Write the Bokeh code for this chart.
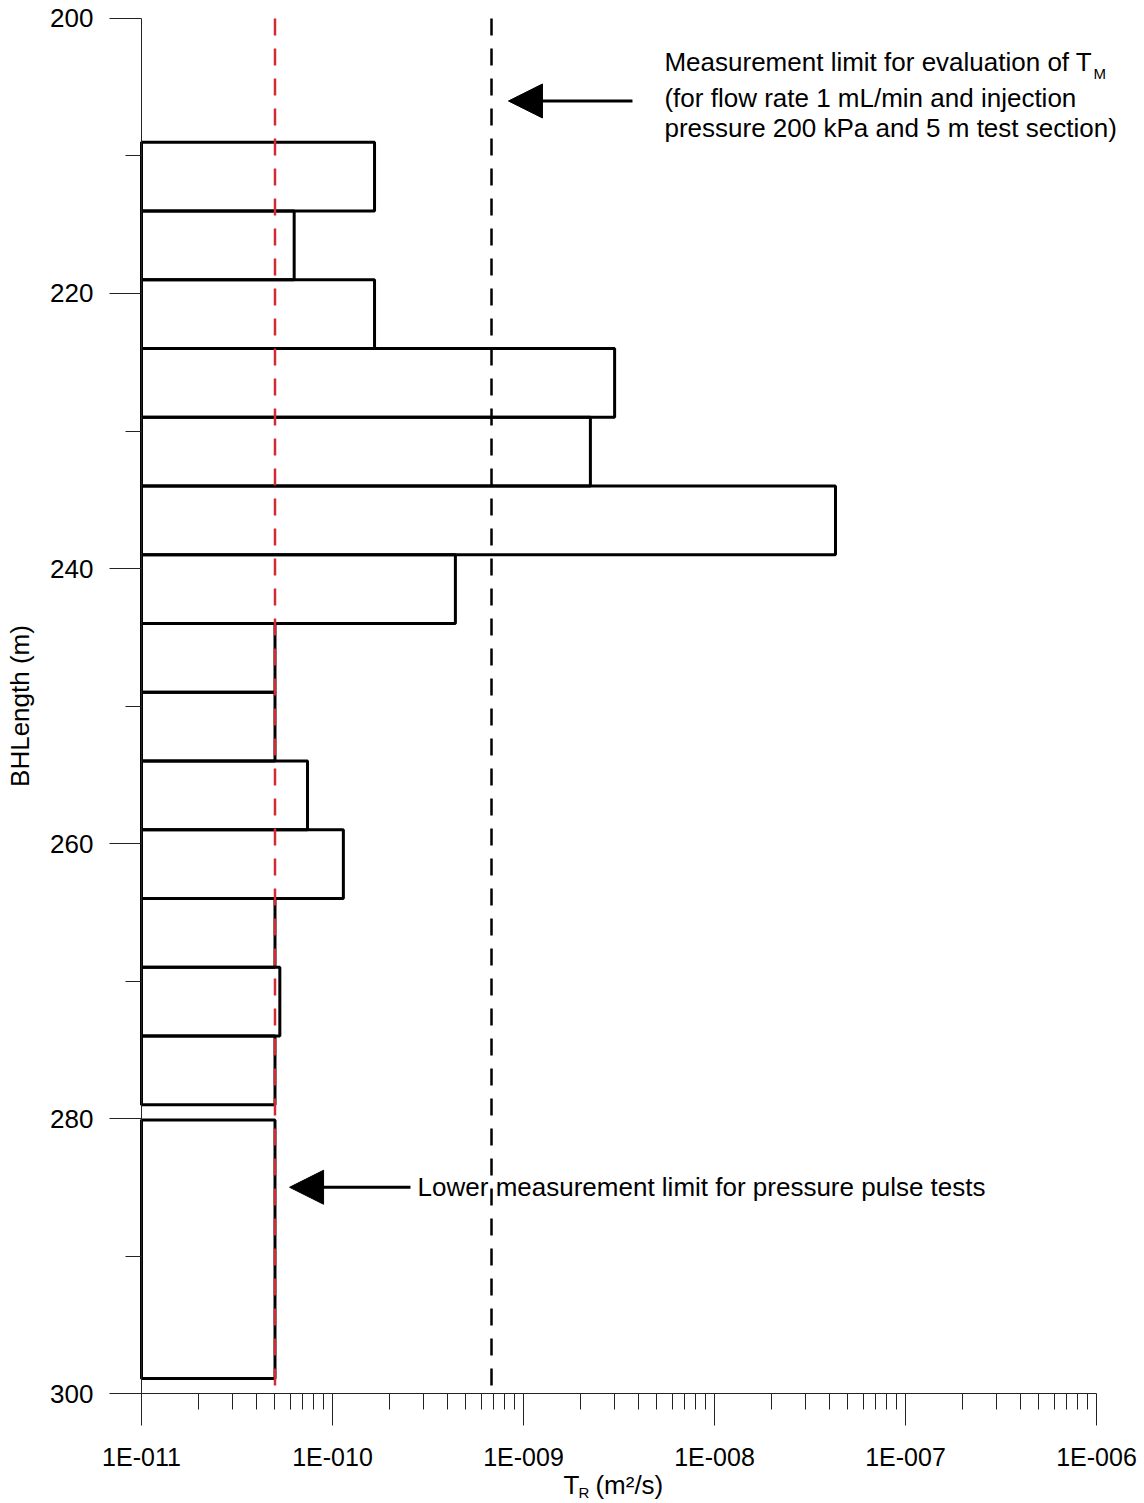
import math
from bokeh.plotting import figure
from bokeh.models import Range1d, FixedTicker, Label, Arrow, NormalHead, ColumnDataSource
from bokeh.embed import file_html
from bokeh.resources import INLINE

# ---- data ----
sec_up = [209, 214, 219, 224, 229, 234, 239, 244, 249, 254, 259, 264, 269, 274, 280.1]
sec_low = [214, 219, 224, 229, 234, 239, 244, 249, 254, 259, 264, 269, 274, 279, 298.9]
t_r = [1.66e-10, 6.3e-11, 1.66e-10, 3.0e-9, 2.24e-9, 4.3e-8, 4.4e-10,
       5.0e-11, 5.0e-11, 7.4e-11, 1.14e-10, 5.0e-11, 5.3e-11, 5.0e-11, 5.0e-11]
x_min = 1e-11
x_ticks = [1e-11, 1e-10, 1e-9, 1e-8, 1e-7, 1e-6]
x_tick_labels = ["1E-011", "1E-010", "1E-009", "1E-008", "1E-007", "1E-006"]
y_ticks = [200, 220, 240, 260, 280, 300]
y_minor = [210, 230, 250, 270, 290]
pulse_limit = 5.0e-11     # lower measurement limit for pressure pulse tests
tm_limit = 6.8e-10        # measurement limit for evaluation of T_M

FONT = "Liberation Sans"

# the frame covers the whole canvas; axes are pinned with fixed_location/bounds
p = figure(width=1140, height=1502, x_axis_type="log",
           x_range=Range1d(10 ** -11.7382, 10 ** -5.7696), y_range=Range1d(307.927, 198.691),
           output_backend="svg", toolbar_location=None,
           min_border_left=0, min_border_right=0, min_border_top=0, min_border_bottom=0)
p.outline_line_color = None
p.xgrid.visible = False
p.ygrid.visible = False
p.background_fill_color = "white"
p.border_fill_color = "white"

src = ColumnDataSource(dict(left=[x_min] * len(t_r), right=t_r, top=sec_up, bottom=sec_low))
p.quad(left="left", right="right", top="top", bottom="bottom", source=src,
       fill_alpha=0, line_color="black", line_width=3)

# limit lines (drawn over the bars)
p.segment(x0=[pulse_limit], y0=[y_ticks[0]], x1=[pulse_limit], y1=[y_ticks[-1]],
          line_color="#d22b36", line_width=2.5, line_dash="17 13")
p.segment(x0=[tm_limit], y0=[y_ticks[0]], x1=[tm_limit], y1=[y_ticks[-1]],
          line_color="black", line_width=2.5, line_dash="17 13")

# axes
minor_x = [m * d for d in x_ticks[:-1] for m in range(2, 10)]
xa = p.xaxis[0]
xa.ticker = FixedTicker(ticks=x_ticks, minor_ticks=minor_x)
xa.major_label_overrides = {t: l for t, l in zip(x_ticks, x_tick_labels)}
xa.bounds = (x_ticks[0], x_ticks[-1])
xa.fixed_location = y_ticks[-1]
ya = p.yaxis[0]
ya.ticker = FixedTicker(ticks=y_ticks, minor_ticks=y_minor)
ya.bounds = (y_ticks[0], y_ticks[-1])
ya.fixed_location = x_ticks[0]
for ax in (xa, ya):
    ax.major_tick_out = 32
    ax.major_tick_in = 0
    ax.minor_tick_out = 16
    ax.minor_tick_in = 0
    ax.axis_line_color = "#222222"
    ax.major_tick_line_color = "#222222"
    ax.minor_tick_line_color = "#222222"
    ax.major_label_text_font = FONT
    ax.major_label_text_color = "black"
    ax.major_label_standoff = 16
xa.major_label_text_font_size = "25px"
ya.major_label_text_font_size = "26px"
xa.major_label_standoff = 17

# arrows
p.add_layout(Arrow(end=NormalHead(size=34, fill_color="black", line_color="black"),
                   x_start=3.72e-9, y_start=206.0, x_end=8.34e-10, y_end=206.0,
                   line_width=3, line_color="black"))
p.add_layout(Arrow(end=NormalHead(size=34, fill_color="black", line_color="black"),
                   x_start=2.56e-10, y_start=285.0, x_end=5.96e-11, y_end=285.0,
                   line_width=3, line_color="black"))

def lab(x, y, text, size="26px", baseline="middle", align="left", angle=0.0):
    p.add_layout(Label(x=x, y=y, text=text, text_font=FONT, text_font_size=size,
                       text_baseline=baseline, text_align=align, text_color="black",
                       angle=angle))

lab(5.47e-9, 203.2, "Measurement limit for evaluation of T")
lab(9.65e-7, 204.0, "M", size="15px")
lab(5.47e-9, 205.75, "(for flow rate 1 mL/min and injection")
lab(5.47e-9, 208.0, "pressure 200 kPa and 5 m test section)")
lab(2.79e-10, 285.0, "Lower measurement limit for pressure pulse tests")

# y-axis title
lab(2.325e-12, (y_ticks[0] + y_ticks[-1]) / 2, "BHLength (m)", align="center", angle=math.pi / 2)

# x-axis title with subscript
lab(1.62e-9, 306.64, "T")
lab(1.94e-9, 307.2, "R", size="15px")
lab(2.38e-9, 306.64, "(m²/s)")

open("out.html", "w").write(file_html(p, INLINE))
